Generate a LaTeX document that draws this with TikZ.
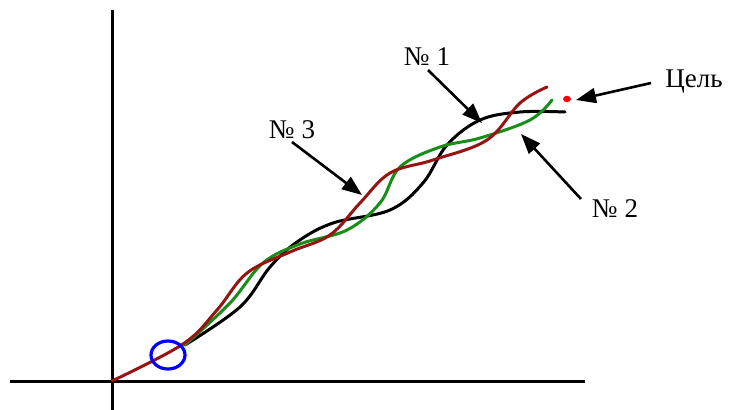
\documentclass[tikz,border=0pt]{standalone}
\usepackage{fontspec}
\setmainfont{Liberation Serif}
\usetikzlibrary{arrows.meta}
\definecolor{cred}{RGB}{150,20,20}
\definecolor{cgreen}{RGB}{25,140,25}
\begin{document}
\begin{tikzpicture}[x=1pt,y=-1pt,
  axis/.style={line width=3pt,black},
  traj/.style={line width=3pt,line join=round,line cap=round},
  pointer/.style={line width=2.6pt,-{Triangle[length=20pt,width=15pt]}},
  lbl/.style={font=\fontsize{27}{30}\selectfont,inner sep=0pt}]
\useasboundingbox (0,0) rectangle (729,410);
% axes
\draw[axis] (112,10) -- (112,410);
\draw[axis] (10,381) -- (585,381);
% trajectories
\draw[traj,black] plot[smooth,tension=0.6] coordinates {(185,345) (240,307) (270,267) (297,242) (333,223) (390,210) (423,183) (447,145) (480,120) (520,112) (565,112)};
\draw[traj,cgreen] plot[smooth,tension=0.6] coordinates {(185,345) (230,303) (263,263) (300,244) (347,230) (380,203) (400,167) (440,147) (480,138) (530,120) (552,100)};
\draw[traj,cred] plot[smooth,tension=0.6] coordinates {(112,381) (183,344) (217,310) (247,273) (290,252) (330,235) (360,203) (390,173) (433,160) (487,140) (520,103) (547,87)};
% start circle
\draw[blue,line width=3.2pt] (168,355) ellipse [x radius=17,y radius=14];
% goal
\fill[red] (567,99) ellipse [x radius=4,y radius=3.2];
% labels
\node[lbl] (n1) at (427,57) {№ 1};
\node[lbl] (n3) at (292,130) {№ 3};
\node[lbl] (n2) at (615,209) {№ 2};
\node[lbl] (goal) at (694,82) {Цель};
\coordinate (t1) at (482,123);
\coordinate (t3) at (362,195);
\coordinate (t2) at (521,134);
\coordinate (tg) at (576,100);
\coordinate (s1) at (428,70);
\coordinate (s3) at (292,142);
\coordinate (s2) at (581,199);
\coordinate (sg) at (651,83);
\draw[pointer] (s1) -- (t1);
\draw[pointer] (s3) -- (t3);
\draw[pointer] (s2) -- (t2);
\draw[pointer] (sg) -- (tg);
\end{tikzpicture}
\end{document}
